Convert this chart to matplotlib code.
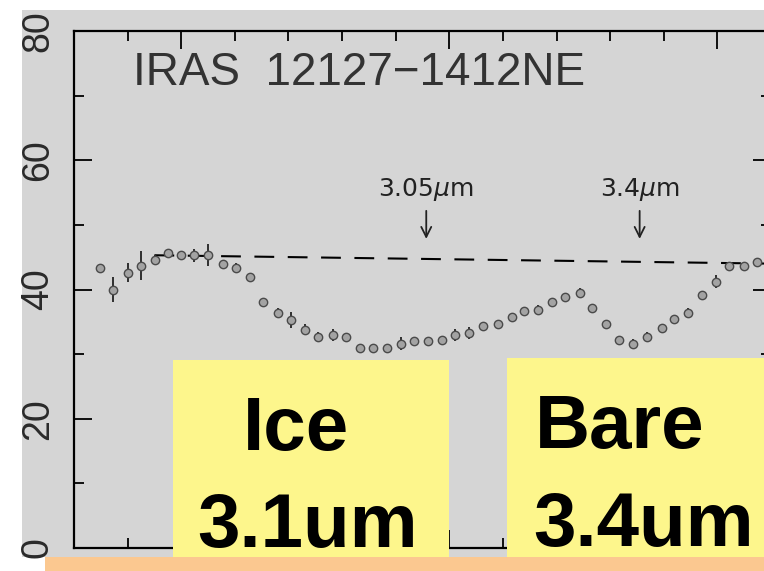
import matplotlib
matplotlib.use('Agg')
import matplotlib.pyplot as plt
from matplotlib.patches import Rectangle
from matplotlib.ticker import MultipleLocator

# spectrum points (wavelength in micron, flux)
wavelength = [2.349, 2.373, 2.401, 2.425, 2.451, 2.476, 2.500, 2.524, 2.550, 2.578,
              2.603, 2.629, 2.653, 2.681, 2.705, 2.731, 2.756, 2.784, 2.808, 2.834,
              2.858, 2.884, 2.909, 2.935, 2.961, 2.987, 3.011, 3.037, 3.063, 3.090,
              3.116, 3.140, 3.166, 3.192, 3.216, 3.243, 3.267, 3.293, 3.317, 3.343,
              3.369, 3.396, 3.420, 3.446, 3.472, 3.498, 3.522, 3.549, 3.573]
flux = [43.3, 40.0, 42.6, 43.7, 44.6, 45.7, 45.3, 45.3, 45.3, 44.0,
        43.3, 41.9, 38.0, 36.4, 35.3, 33.8, 32.6, 33.0, 32.6, 30.9,
        31.0, 31.0, 31.6, 32.1, 32.1, 32.2, 33.0, 33.3, 34.4, 34.7,
        35.7, 36.6, 36.9, 38.0, 38.9, 39.5, 37.2, 34.6, 32.2, 31.6,
        32.6, 34.1, 35.5, 36.4, 39.1, 41.2, 43.6, 43.6, 44.2]
flux_err = [0.6, 2.0, 1.5, 2.3, 0.8, 0.5, 0.5, 1.0, 1.7, 0.5,
            0.8, 0.6, 0.5, 0.8, 1.2, 0.8, 0.8, 0.9, 0.5, 0.4,
            0.4, 0.5, 1.0, 0.4, 0.4, 0.4, 0.9, 0.9, 0.4, 0.4,
            0.4, 0.5, 0.7, 0.5, 0.5, 0.7, 0.6, 0.6, 0.6, 0.8,
            0.8, 0.5, 0.6, 0.8, 0.5, 1.0, 0.5, 0.5, 0.6]

# continuum (dashed line)
continuum_x = [2.45, 3.60]
continuum_y = [45.3, 44.0]

# feature markers
feature_x = [2.957, 3.355]
feature_labels = [r'3.05$\mu$m', r'3.4$\mu$m']

y_ticks = [0, 20, 40, 60, 80]
title = 'IRAS  12127\u22121412NE'

GRAY = '#d5d5d5'
YELLOW = '#fdf68c'
ORANGE = '#fbc890'

W, H = 764, 571
fig = plt.figure(figsize=(W / 100, H / 100), dpi=100, facecolor='white')

# gray slide background
fig.add_artist(Rectangle((22 / W, 14 / H), 742 / W, 547 / H, transform=fig.transFigure,
                         facecolor=GRAY, edgecolor='none', zorder=-5))

ax = fig.add_axes([74 / W, 23 / H, 697 / W, 517 / H])
ax.set_facecolor(GRAY)
ax.set_xlim(2.3, 3.6)
ax.set_ylim(0, 80)

ax.plot(continuum_x, continuum_y, color='black', lw=1.5, dashes=(9.5, 6.5), zorder=2)
ax.errorbar(wavelength, flux, yerr=flux_err, fmt='o', ms=6, mfc='#a3a3a3', mec='#4a4a4a',
            mew=1.0, ecolor='#222222', elinewidth=1.3, capsize=0, zorder=3)

for fx, lab in zip(feature_x, feature_labels):
    ax.annotate('', xy=(fx, 47.4), xytext=(fx, 52.6),
                arrowprops=dict(arrowstyle='->', color='#222222', lw=1.3,
                                mutation_scale=18))
    ax.text(fx, 55.4, lab, ha='center', va='center', fontsize=18,
            color='#222222', family='DejaVu Sans')

ax.text(2.41, 73.5, title, ha='left', va='center', fontsize=33,
        color='#333333', family='Liberation Sans')

ax.xaxis.set_major_locator(MultipleLocator(0.5))
ax.xaxis.set_minor_locator(MultipleLocator(0.1))
ax.set_yticks(y_ticks)
ax.yaxis.set_minor_locator(MultipleLocator(10))
ax.tick_params(which='both', direction='in', top=True, right=True, width=1.3, color='black')
ax.tick_params(which='major', length=13)
ax.tick_params(which='minor', length=7)
ax.tick_params(axis='x', labelbottom=False)
ax.tick_params(axis='y', pad=13, labelsize=27, labelcolor='#2a2a2a')
for lab in ax.get_yticklabels():
    lab.set_rotation(90)
    lab.set_va('center')
    lab.set_family('Liberation Sans')
for sp in ax.spines.values():
    sp.set_linewidth(1.6)

# yellow label boxes and orange strip over the plot
fig.add_artist(Rectangle((173 / W, 14 / H), 276 / W, 197 / H, transform=fig.transFigure,
                         facecolor=YELLOW, edgecolor='none', zorder=5))
fig.add_artist(Rectangle((507 / W, 14 / H), 257 / W, 199 / H, transform=fig.transFigure,
                         facecolor=YELLOW, edgecolor='none', zorder=5))
fig.add_artist(Rectangle((45 / W, 0), 719 / W, 14 / H, transform=fig.transFigure,
                         facecolor=ORANGE, edgecolor='none', zorder=5))

big = dict(fontsize=55, fontweight='bold', family='Liberation Sans', color='black',
           va='baseline', zorder=6)
fig.text(243 / W, (H - 450) / H, 'Ice', ha='left', **big)
fig.text(197 / W, (H - 547) / H, '3.1um', ha='left', **big)
fig.text(535 / W, (H - 448) / H, 'Bare', ha='left', **big)
fig.text(533 / W, (H - 546) / H, '3.4um', ha='left', **big)

fig.savefig('out.png', dpi=100, facecolor='white')
